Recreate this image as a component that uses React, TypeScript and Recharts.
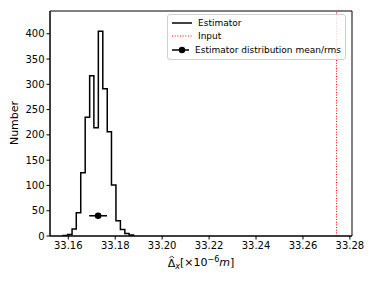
import { ComposedChart, Line, Scatter, ErrorBar, XAxis, YAxis, ReferenceLine, ReferenceArea, Legend } from 'recharts'

// histogram bin edges and counts (Estimator)
const binEdges = [
  33.1578, 33.1597, 33.1616, 33.1634, 33.1653, 33.1672, 33.1691, 33.1709, 33.1728,
  33.1747, 33.1766, 33.1784, 33.1803, 33.1822, 33.1841, 33.1859, 33.1878
]
const binCounts = [1, 3, 14, 46, 125, 235, 317, 214, 405, 291, 206, 101, 30, 13, 5, 2]

// distribution mean / rms marker
const meanX = 33.1727
const meanY = 40
const rmsX = 0.0038

// input value
const inputX = 33.2743

const xTicks = [33.16, 33.18, 33.2, 33.22, 33.24, 33.26, 33.28]
const yTicks = [0, 50, 100, 150, 200, 250, 300, 350, 400]
const xDomain: [number, number] = [33.1522, 33.2809]
const yDomain: [number, number] = [0, 445]

// step outline like matplotlib histtype='step'
const histData = [
  { x: binEdges[0], y: 0 },
  ...binCounts.map((c, i) => ({ x: binEdges[i], y: c })),
  { x: binEdges[binEdges.length - 1], y: binCounts[binCounts.length - 1] },
  { x: binEdges[binEdges.length - 1], y: 0 }
]
const meanData = [{ x: meanX, y: meanY, err: rmsX }]

const FONT = '"DejaVu Sans", sans-serif'
const tickStyle = { fontSize: 10, fill: '#000', fontFamily: FONT }

function LegendBox() {
  const row = { display: 'flex', alignItems: 'center', height: 13.5, whiteSpace: 'nowrap' as const }
  return (
    <div
      style={{
        boxSizing: 'border-box',
        border: '1px solid #d0d0d0',
        borderRadius: 3,
        background: 'rgba(255,255,255,0.8)',
        padding: '1px 4px 2px 4px',
        fontFamily: FONT,
        fontSize: 9,
        color: '#000',
        width: 179
      }}
    >
      <div style={row}>
        <svg width={20} height={10} style={{ marginRight: 6 }}>
          <line x1={0} y1={5} x2={20} y2={5} stroke="#000" strokeWidth={1.5} />
        </svg>
        Estimator
      </div>
      <div style={row}>
        <svg width={20} height={10} style={{ marginRight: 6 }}>
          <line x1={0} y1={5} x2={20} y2={5} stroke="red" strokeWidth={1} strokeDasharray="1 1.65" />
        </svg>
        Input
      </div>
      <div style={row}>
        <svg width={20} height={10} style={{ marginRight: 6 }}>
          <line x1={0} y1={5} x2={20} y2={5} stroke="#000" strokeWidth={1.5} />
          <circle cx={10} cy={5} r={3.2} fill="#000" />
        </svg>
        Estimator distribution mean/rms
      </div>
    </div>
  )
}

export default function App() {
  return (
    <div style={{ position: 'absolute', left: 0, top: 0, width: 374, height: 281, background: '#fff' }}>
      <ComposedChart width={374} height={281} margin={{ top: 11, right: 22, bottom: 0, left: 0 }}>
        <XAxis
          dataKey="x"
          type="number"
          domain={xDomain}
          allowDataOverflow
          ticks={xTicks}
          tickFormatter={(v: number) => v.toFixed(2)}
          tick={tickStyle}
          tickSize={3.5}
          tickMargin={2}
          height={45}
          axisLine={{ stroke: '#000' }}
          tickLine={{ stroke: '#000' }}
        />
        <YAxis
          dataKey="y"
          type="number"
          domain={yDomain}
          allowDataOverflow
          ticks={yTicks}
          tick={tickStyle}
          tickSize={3.5}
          tickMargin={2}
          width={50}
          axisLine={{ stroke: '#000' }}
          tickLine={{ stroke: '#000' }}
        />
        <ReferenceArea x1={xDomain[0]} x2={xDomain[1]} y1={yDomain[0]} y2={yDomain[1]} fill="none" stroke="#000" strokeWidth={1} />
        <ReferenceLine x={inputX} stroke="red" strokeWidth={1} strokeDasharray="1 1.65" />
        <Line
          data={histData}
          dataKey="y"
          type="stepAfter"
          stroke="#000"
          strokeWidth={1.5}
          dot={false}
          activeDot={false}
          isAnimationActive={false}
        />
        <Scatter
          data={meanData}
          dataKey="y"
          fill="#000"
          isAnimationActive={false}
          shape={(p: any) => <circle cx={p.cx} cy={p.cy} r={3.3} fill="#000" />}
        >
          <ErrorBar dataKey="err" direction="x" width={0} stroke="#000" strokeWidth={1.5} isAnimationActive={false} />
        </Scatter>
        <Legend
          layout="vertical"
          align="center"
          verticalAlign="middle"
          wrapperStyle={{ left: 167, top: 14, width: 179 }}
          content={() => <LegendBox />}
        />
      </ComposedChart>
      <div
        style={{
          position: 'absolute',
          left: 14,
          top: 123,
          transform: 'translate(-50%, -50%) rotate(-90deg)',
          fontFamily: FONT,
          fontSize: 11,
          whiteSpace: 'nowrap'
        }}
      >
        Number
      </div>
      <div
        style={{
          position: 'absolute',
          left: 201,
          top: 263,
          transform: 'translate(-50%, -50%)',
          fontFamily: FONT,
          fontSize: 11,
          whiteSpace: 'nowrap'
        }}
      >
        <span style={{ position: 'relative', display: 'inline-block' }}>
          Δ
          <svg width={6} height={3} style={{ position: 'absolute', left: 1, top: -1 }}>
            <polyline points="0.5,2.5 3,0.5 5.5,2.5" fill="none" stroke="#000" strokeWidth={0.8} />
          </svg>
        </span>
        <sub style={{ fontStyle: 'italic', fontSize: 8 }}>x</sub>[×10<sup style={{ fontSize: 8 }}>−6</sup><i>m</i>]
      </div>
    </div>
  )
}
